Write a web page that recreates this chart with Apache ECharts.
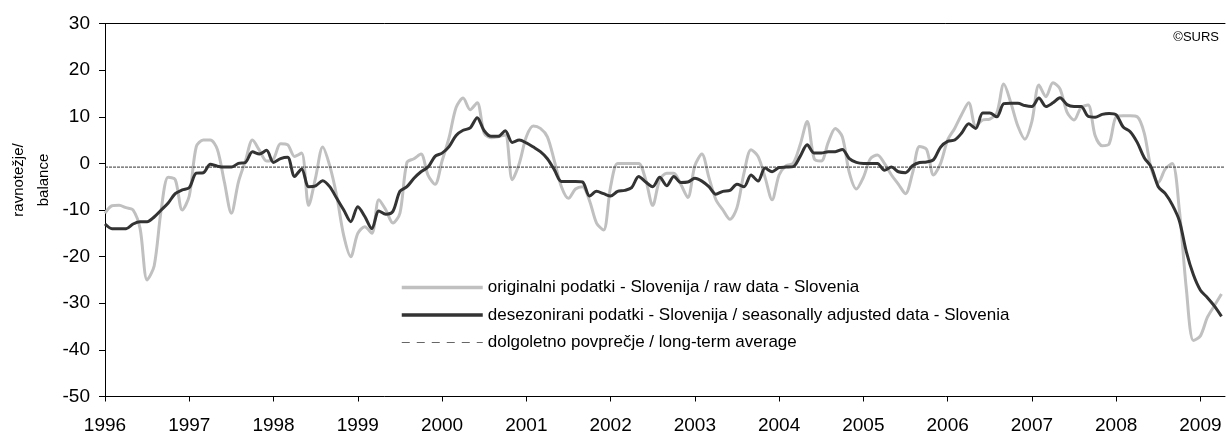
<!DOCTYPE html>
<html>
<head>
<meta charset="utf-8">
<title>ravnotežje</title>
<script src="https://cdn.jsdelivr.net/npm/echarts@6/dist/echarts.min.js"></script>
<style>
	html, body { margin: 0; padding: 0; background: #fff; }
	#chart { width: 1226px; height: 435px; }
</style>
</head>
<body>
<div id="chart"></div>
<script>
// mesecni podatki, januar 1996 - april 2009
var yearLabels = ['1996', '1997', '1998', '1999', '2000', '2001', '2002', '2003', '2004', '2005', '2006', '2007', '2008', '2009'];

// originalni podatki / raw data
var rawData = [
	-10.7, -9.1, -9, -9.5, -10, -14, -25, -22, -10, -3, -3.5, -10,
	-7, 3.6, 5, 5, 3, -4, -10.7, -4, 0.5, 5, 2.8, 0.5,
	1, 4.2, 4, 1.5, 2.2, -9, -3, 3.5, -0.5, -7, -15.5, -20,
	-15, -13.6, -15, -7.8, -10, -12.8, -10.7, 0.2, 1, 2, -2.5, -4.5,
	0.5, 5.5, 12, 14, 11.5, 13, 6.5, 5.5, 5.7, 6.1, -3.5, 0,
	5.7, 8, 7.5, 5.7, 0.5, -5, -7.5, -5.5, -5, -8, -12.8, -14.3,
	-5, 0, 0, 0, 0, -3.5, -9, -3.5, -2.1, -2.1, -4.5, -7.3,
	-0.5, 2, -3, -7.8, -10, -12, -9.5, -2.1, 2.9, 1.5, -3, -7.8,
	-2.5, -0.5, 0, 4, 9, 1, 0.5, 4.5, 7.5, 5.7, -2, -5.5,
	-3, 1, 1.8, 0, -2.5, -4.5, -6.5, -2.1, 3.6, 3, -2.5, 0,
	5, 7.5, 10.5, 13, 8, 9.3, 9.5, 10.8, 17, 13, 8, 5.2,
	9, 16.8, 14.3, 17.3, 16, 11, 9.3, 12, 12.5, 6, 3.8, 4.2,
	10, 10.2, 10.2, 10, 6.5, -1.2, -4.1, -1.2, 0, -10, -27, -38,
	-37, -33, -30.5, -28
];

// desezonirani podatki / seasonally adjusted data
var saData = [
	-13, -14, -14, -14, -13, -12.5, -12.5, -11.5, -10, -8.5, -6.5, -5.7,
	-5.2, -2.1, -2, -0.2, -0.6, -0.8, -0.8, 0, 0.2, 2.5, 2, 2.8,
	0.2, 1, 1.3, -2.8, -1.2, -5, -4.8, -3.7, -5, -7.5, -10, -12.5,
	-9.3, -11.4, -14, -10.2, -10.9, -10.3, -6, -5, -3.2, -1.8, -0.8, 1.5,
	2.2, 3.6, 6, 7.1, 7.6, 9.8, 7, 5.8, 5.8, 7, 4.5, 5,
	4.4, 3.5, 2.5, 1, -1.4, -3.9, -3.9, -3.9, -4, -7, -6, -6.5,
	-7, -6, -5.8, -5.2, -2.8, -4, -5, -3, -4.8, -2.8, -4.1, -4,
	-3.2, -3.8, -5, -6.6, -6, -5.8, -4.5, -5, -2.5, -3.8, -1, -1.8,
	-0.9, -0.8, -0.7, 1.5, 4, 2.2, 2.2, 2.5, 2.5, 3, 1, 0.2,
	0, 0, 0, -1.5, -0.8, -1.8, -2, -0.5, 0.2, 0.3, 0.8, 3.5,
	4.7, 5, 6.5, 8.5, 7.5, 10.8, 10.8, 10, 12.8, 12.9, 12.9, 12.4,
	12.2, 14, 12.2, 13, 14.1, 12.6, 12.2, 12.2, 10.1, 9.9, 10.5, 10.7,
	10.4, 7.8, 6.8, 4.5, 1.2, -0.8, -5, -6.5, -8.9, -12.3, -19, -23.9,
	-27.2, -28.8, -30.6, -32.8
];

// dolgoletno povprecje / long-term average
var longTermAvg = -0.8;

var rawName = 'originalni podatki - Slovenija / raw data - Slovenia';
var saName = 'desezonirani podatki - Slovenija / seasonally adjusted data - Slovenia';
var avgName = 'dolgoletno povprečje / long-term average';

var toPairs = function(arr) {
	var out = [];
	for (var i = 0; i < arr.length; i++) {
		out.push([i, arr[i]]);
	}
	return out;
};

var yearTicks = [];
for (var k = 0; k < yearLabels.length; k++) {
	yearTicks.push(k * 12);
}
var lastIdx = rawData.length - 1;

var font = '"Liberation Sans", Arial, sans-serif';
var noSymbol = { color : 'rgba(0,0,0,0)', borderColor : 'rgba(0,0,0,0)', borderWidth : 0 };
var myChart = echarts.init(document.getElementById('chart'));

var option = {
	animation : false,
	textStyle : { fontFamily : font, color : '#000' },
	grid : { left : 105, right : 1, top : 23.5, bottom : 38.5, outerBoundsMode : 'none', containLabel : false },
	legend : {
		orient : 'vertical',
		left : 395,
		top : 274,
		itemWidth : 81,
		itemHeight : 18,
		itemGap : 10.5,
		itemStyle : noSymbol,
		textStyle : { fontFamily : font, fontSize : 17, color : '#000' },
		data : [
			{ name : rawName, lineStyle : { width : 3.5, color : '#c0c0c0' } },
			{ name : saName, lineStyle : { width : 3.5, color : '#333333' } },
			{ name : avgName, lineStyle : { type : [8, 7], color : '#666', width : 1 } }
		]
	},
	graphic : [ {
		type : 'text',
		right : 7,
		top : 31,
		style : { text : '©SURS', font : '13px ' + font, fill : '#000' }
	}, {
		// naslov osi y
		type : 'text',
		x : 31,
		y : 180,
		rotation : Math.PI / 2,
		style : {
			text : 'ravnotežje/\nbalance',
			font : '15px ' + font,
			lineHeight : 25,
			fill : '#000',
			align : 'center',
			verticalAlign : 'middle'
		}
	} ],
	xAxis : [ {
		type : 'value',
		min : 0,
		max : 159.5,
		interval : 12,
		axisLine : { onZero : false, lineStyle : { color : '#000', width : 1 } },
		axisTick : { inside : false, length : 5, lineStyle : { color : '#000' }, customValues : yearTicks },
		axisLabel : {
			fontSize : 19,
			color : '#000',
			margin : 20,
			customValues : yearTicks,
			formatter : function(v) {
				return yearLabels[Math.round(v / 12)];
			}
		},
		splitLine : { show : false }
	}, {
		// zgornji rob
		type : 'value',
		position : 'top',
		min : 0,
		max : 159.5,
		axisLine : { show : true, onZero : false, lineStyle : { color : '#000', width : 1 } },
		axisTick : { show : false },
		axisLabel : { show : false },
		splitLine : { show : false }
	} ],
	yAxis : {
		type : 'value',
		min : -50,
		max : 30,
		interval : 10,
		axisLine : { show : true, onZero : false, lineStyle : { color : '#000', width : 1 } },
		axisTick : { show : true, length : 6, lineStyle : { color : '#000' } },
		axisLabel : { fontSize : 19, color : '#000', margin : 15 },
		splitLine : { show : false }
	},
	series : [ {
		name : rawName,
		type : 'line',
		data : toPairs(rawData),
		symbol : 'none',
		smooth : 0.3,
		lineStyle : { color : '#c0c0c0', width : 3 },
		itemStyle : { color : '#c0c0c0' },
		z : 2
	}, {
		name : avgName,
		type : 'line',
		data : [ [0, longTermAvg], [lastIdx + 0.5, longTermAvg] ],
		symbol : 'none',
		lineStyle : { color : '#333', width : 1, type : [3, 1] },
		itemStyle : { color : '#666' },
		z : 3
	}, {
		name : saName,
		type : 'line',
		data : toPairs(saData),
		symbol : 'none',
		smooth : 0.3,
		lineStyle : { color : '#333333', width : 3 },
		itemStyle : { color : '#333333' },
		z : 4
	} ]
};
myChart.setOption(option);
</script>
</body>
</html>
